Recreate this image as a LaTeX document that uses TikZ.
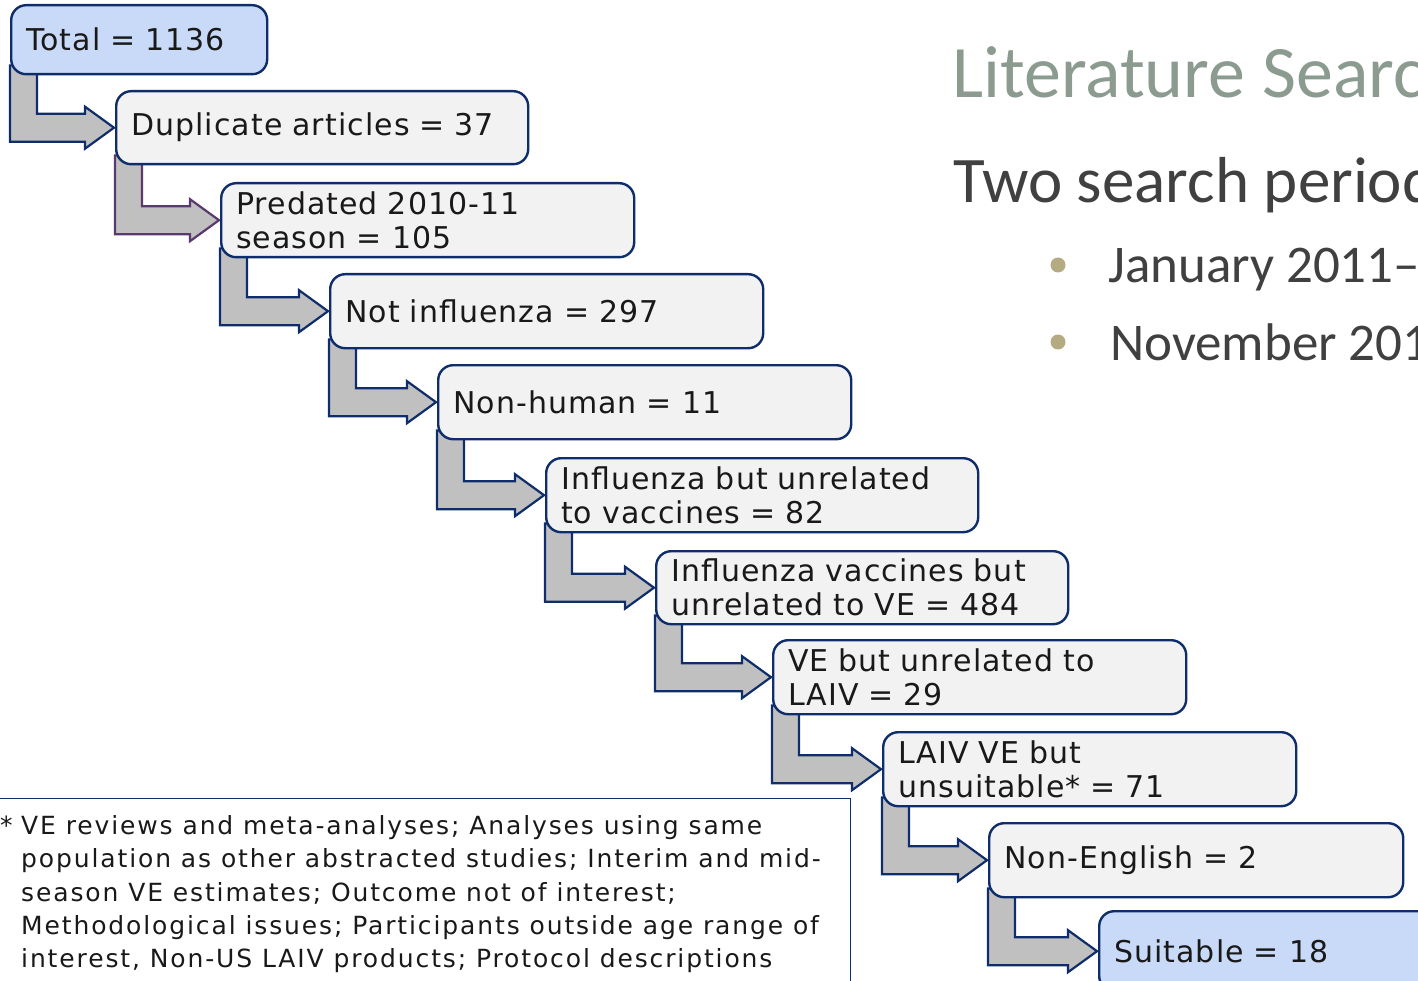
\documentclass[tikz,border=0pt]{standalone}
\usepackage{fontspec}
\setmainfont{DejaVu Sans}
\newfontfamily\calibri{Carlito}
\newfontfamily\boxfont[LetterSpace=3.5]{DejaVu Sans}
\newfontfamily\notefont[LetterSpace=7.5]{DejaVu Sans}
\usetikzlibrary{calc}
\pgfdeclarelayer{bg}
\pgfsetlayers{bg,main}
\definecolor{navy}{HTML}{0F2D6B}
\definecolor{boxgray}{HTML}{F2F2F2}
\definecolor{boxblue}{HTML}{C9DAF8}
\definecolor{arrowgray}{HTML}{C0C0C0}
\definecolor{purpleedge}{HTML}{5A3A6E}
\definecolor{titlegray}{HTML}{8C9B90}
\definecolor{textgray}{HTML}{404040}
\definecolor{bulletcol}{HTML}{B5AB83}
\newcommand{\bentarrow}[3][navy]{%
  \path[draw=#1, fill=arrowgray, line width=2.2pt, line join=miter]
    let \p1=(#2.south west), \p2=(#3.west) in
    (\x1, \y1+10pt) -- (\x1+27pt, \y1+10pt) -- (\x1+27pt, \y2+14pt)
    -- (\x2-30pt, \y2+14pt) -- (\x2-30pt, \y2+21pt) -- (\x2-1pt, \y2)
    -- (\x2-30pt, \y2-21pt) -- (\x2-30pt, \y2-14pt) -- (\x1, \y2-14pt) -- cycle;}
\begin{document}
\begin{tikzpicture}[x=1pt,y=-1pt,
  stepbox/.style={draw=navy, line width=2.4pt, fill=boxgray, rounded corners=15pt,
    anchor=north west, inner xsep=15pt, inner ysep=0pt, align=left,
    font=\boxfont\fontsize{30}{34}\selectfont, text={black!90}},
  bluebox/.style={stepbox, fill=boxblue},
  bigtext/.style={anchor=base west, inner sep=0pt, text=textgray},
  bulletdot/.style={circle, fill=bulletcol, minimum size=15pt, inner sep=0pt}]
\useasboundingbox (0,0) rectangle (1418,981);
\clip (0,0) rectangle (1418,981);

% flow boxes
\node[bluebox, text width=226pt, minimum height=69pt] (b1) at (10,4) {Total = 1136};
\node[stepbox, text width=382pt, minimum height=73pt] (b2) at (115,90) {Duplicate articles = 37};
\node[stepbox, text width=383pt, minimum height=74pt] (b3) at (220,182) {Predated 2010-11\\season = 105};
\node[stepbox, text width=403pt, minimum height=74pt] (b4) at (329,273) {Not influenza = 297};
\node[stepbox, text width=383pt, minimum height=74pt] (b5) at (437,364) {Non-human = 11};
\node[stepbox, text width=402pt, minimum height=74pt] (b6) at (545,457) {Influenza but unrelated\\to vaccines = 82};
\node[stepbox, text width=382pt, minimum height=73pt] (b7) at (655,550) {Influenza vaccines but\\unrelated to VE = 484};
\node[stepbox, text width=383pt, minimum height=74pt] (b8) at (772,639) {VE but unrelated to\\LAIV = 29};
\node[stepbox, text width=383pt, minimum height=74pt] (b9) at (882,731) {LAIV VE but\\unsuitable* = 71};
\node[stepbox, text width=384pt, minimum height=74pt] (b10) at (988,822) {Non-English = 2};
\node[bluebox, text width=382pt, minimum height=80pt] (b11) at (1098,910) {Suitable = 18};

\begin{pgfonlayer}{bg}
\bentarrow{b1}{b2}
\bentarrow[purpleedge]{b2}{b3}
\bentarrow{b3}{b4}
\bentarrow{b4}{b5}
\bentarrow{b5}{b6}
\bentarrow{b6}{b7}
\bentarrow{b7}{b8}
\bentarrow{b8}{b9}
\bentarrow{b9}{b10}
\bentarrow{b10}{b11}
\end{pgfonlayer}

% footnote
\node[draw=navy, line width=1.2pt, anchor=north west, minimum width=860pt,
  minimum height=220pt, inner sep=0pt] (notebox) at (-10,798) {};
\node[anchor=north west, inner sep=0pt, align=left, text={black!90},
  font=\notefont\fontsize{25}{33.4}\selectfont] (note) at (0,815)
 {\makebox[21pt][l]{*}VE reviews and meta-analyses; Analyses using same\\
  \hspace*{21pt}population as other abstracted studies; Interim and mid-\\
  \hspace*{21pt}season VE estimates; Outcome not of interest;\\
  \hspace*{21pt}Methodological issues; Participants outside age range of\\
  \hspace*{21pt}interest, Non-US LAIV products; Protocol descriptions};

% right-hand slide text
\node[bigtext, text=titlegray, font=\calibri\fontsize{74}{80}\selectfont] (title) at (952,98) {Literature Search};
\node[bigtext, font=\calibri\fontsize{65}{70}\selectfont] (sub) at (953,203) {Two search periods};
\node[bulletdot] (d1) at (1058,265) {};
\node[bulletdot] (d2) at (1058,342) {};
\node[bigtext, font=\calibri\fontsize{53}{60}\selectfont] (p1) at (1108,283) {January 2011–};
\node[bigtext, font=\calibri\fontsize{53}{60}\selectfont] (p2) at (1110,360) {November 201};
\end{tikzpicture}
\end{document}
